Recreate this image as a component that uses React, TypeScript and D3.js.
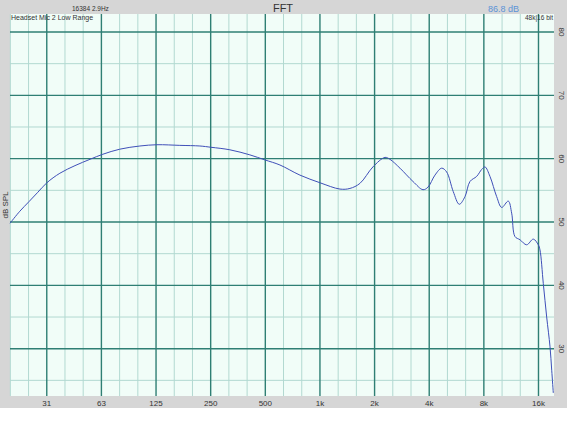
import * as d3 from "d3"

// frequency response (Hz, dB SPL)
const freqs = [19.6, 22.2, 24.9, 27.9, 31.3, 36.9, 44.7, 54.1, 63.7, 79, 101.9, 126.5, 169, 218, 251, 319, 411, 498, 602, 776, 1000, 1289, 1463, 1661, 1959, 2282, 2430, 2760, 3256, 3696, 3937, 4302, 4685, 4990, 5427, 5856, 6296, 6708, 7303, 7783, 8117, 8647, 9414, 10030, 10904, 11385, 11874, 12650, 13775, 14980, 15960, 16305, 17004, 17754, 18520, 18923, 19310]
const levels = [49.8, 51.7, 53.2, 54.7, 56.2, 57.7, 58.9, 59.9, 60.7, 61.5, 62.0, 62.2, 62.1, 62.0, 61.8, 61.4, 60.6, 59.8, 59.0, 57.4, 56.2, 55.2, 55.3, 56.1, 58.7, 60.2, 59.9, 58.5, 56.4, 55.1, 55.5, 57.4, 58.5, 57.9, 54.8, 52.8, 54.0, 56.4, 57.2, 58.3, 58.7, 57.2, 54.0, 52.3, 53.3, 51.4, 47.7, 47.2, 46.4, 47.3, 46.4, 45.6, 40.3, 35.0, 30.3, 26.6, 23.0]

const xTickFreqs = [31.25, 62.5, 125, 250, 500, 1000, 2000, 4000, 8000, 16000]
const xTickLabels = ["31", "63", "125", "250", "500", "1k", "2k", "4k", "8k", "16k"]
const yTicks = [30, 40, 50, 60, 70, 80]

const W = 567
const H = 425
const plot = { left: 10, right: 554, top: 14, bottom: 396 }

export default function App() {
  const x = d3.scaleLog().domain([19.6, 19480]).range([plot.left, plot.right])
  const y = d3.scaleLinear().domain([22.53, 82.84]).range([plot.bottom, plot.top])

  // third-octave grid, darker lines on octaves
  const thirdOct: { f: number; major: boolean }[] = []
  for (let k = -18; k <= 15; k++) {
    const f = 1000 * Math.pow(2, k / 3)
    if (f > 19.6 && f < 19480) thirdOct.push({ f, major: k % 3 === 0 })
  }
  const dbLines = d3.range(25, 85, 5).filter(v => v > 22.53 && v < 82.84)

  const pts = freqs.map((f, i) => [f, levels[i]] as [number, number])
  const line = d3.line<[number, number]>()
    .x(d => x(d[0]))
    .y(d => y(d[1]))
    .curve(d3.curveCatmullRom.alpha(0.5))

  const font = "'Liberation Sans', Arial, sans-serif"

  return (
    <svg width={W} height={H} style={{ position: "absolute", left: 0, top: 0 }} fontFamily={font}>
      <rect x={0} y={0} width={W} height={H} fill="#ffffff" />
      <rect x={0} y={0} width={W} height={408} fill="#d6d6d6" />
      <rect x={plot.left} y={plot.top} width={plot.right - plot.left} height={plot.bottom - plot.top} fill="#f1fdf8" />

      {thirdOct.filter(d => !d.major).map((d, i) => (
        <line key={"vx" + i} x1={x(d.f)} x2={x(d.f)} y1={plot.top} y2={plot.bottom} stroke="#b2d9d1" strokeWidth={1} />
      ))}
      {dbLines.filter(v => v % 10 !== 0).map(v => (
        <line key={"hy" + v} x1={plot.left} x2={plot.right} y1={y(v)} y2={y(v)} stroke="#b2d9d1" strokeWidth={1} />
      ))}
      {thirdOct.filter(d => d.major).map((d, i) => (
        <line key={"Vx" + i} x1={x(d.f)} x2={x(d.f)} y1={plot.top} y2={plot.bottom} stroke="#2f7f74" strokeWidth={1.4} />
      ))}
      {dbLines.filter(v => v % 10 === 0).map(v => (
        <line key={"Hy" + v} x1={plot.left} x2={plot.right} y1={y(v)} y2={y(v)} stroke="#2f7f74" strokeWidth={1.4} />
      ))}

      <path d={line(pts) ?? ""} fill="none" stroke="#3f4fb8" strokeWidth={1} />

      {xTickFreqs.map((f, i) => (
        <text key={"xl" + i} x={x(f)} y={406} textAnchor="middle" fontSize={8} fill="#333">{xTickLabels[i]}</text>
      ))}
      {yTicks.map(v => (
        <text key={"yl" + v} transform={`translate(559,${y(v)}) rotate(90)`} textAnchor="middle" fontSize={8} fill="#333">{v}</text>
      ))}

      <text transform="translate(8,205) rotate(-90)" textAnchor="middle" fontSize={8} fill="#333">dB SPL</text>
      <text x={283} y={12} textAnchor="middle" fontSize={11} fill="#333">FFT</text>
      <text x={72} y={11} fontSize={6.5} fill="#333">16384  2.9Hz</text>
      <text x={488} y={12} fontSize={9} fill="#5b93d6">86.8 dB</text>
      <text x={11} y={20} fontSize={7} fill="#333">Headset Mic 2 Low Range</text>
      <text x={553} y={20} textAnchor="end" fontSize={6.5} fill="#333">48k|16 bit</text>
    </svg>
  )
}
